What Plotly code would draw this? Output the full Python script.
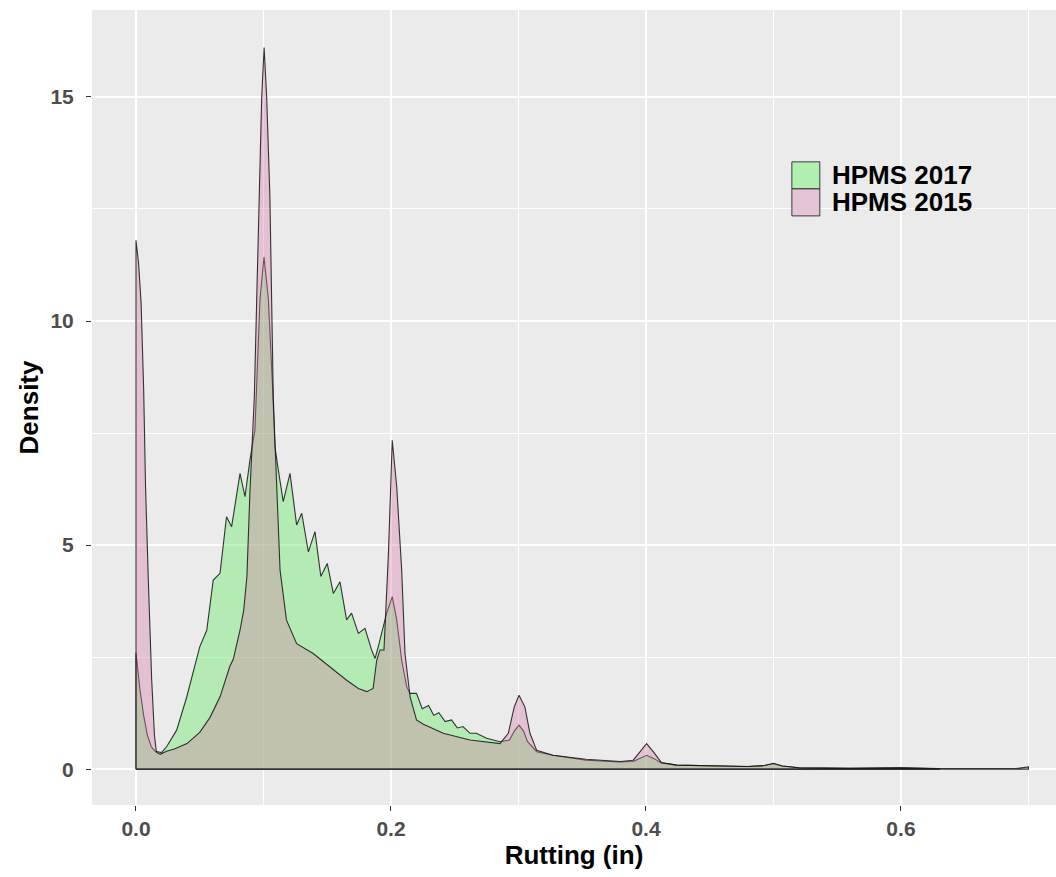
import plotly.graph_objects as go

# ---------------- data ----------------
series_names = ["HPMS 2017", "HPMS 2015"]

x_2015 = [0.0, 0.002, 0.004, 0.006, 0.0075, 0.0097, 0.0123, 0.0145, 0.016, 0.019,
          0.024, 0.03, 0.04, 0.05, 0.058, 0.066, 0.0737, 0.0763, 0.0816, 0.0845,
          0.087, 0.0894, 0.091, 0.0928, 0.0947, 0.0967, 0.0986, 0.1005, 0.1025, 0.105,
          0.1064, 0.1077, 0.109, 0.113, 0.118, 0.126, 0.139, 0.152, 0.165, 0.1744,
          0.181, 0.186, 0.1888, 0.1914, 0.1945, 0.198, 0.201, 0.2045, 0.2084, 0.211,
          0.215, 0.22, 0.2254, 0.241, 0.262, 0.2855, 0.292, 0.2967, 0.3004, 0.305,
          0.309, 0.3143, 0.327, 0.353, 0.38, 0.39, 0.395, 0.4005, 0.406, 0.412,
          0.424, 0.45, 0.48, 0.493, 0.5, 0.507, 0.52, 0.56, 0.6, 0.63]
y_2015 = [11.8, 11.3, 10.4, 8.5, 6.3, 4.2, 2.0, 0.75, 0.38, 0.33,
          0.4, 0.45, 0.57, 0.82, 1.15, 1.62, 2.3, 2.45, 3.1, 3.55,
          4.3, 6.2, 7.2, 8.3, 10.5, 12.8, 15.0, 16.1, 15.0, 12.8,
          10.5, 8.3, 7.3, 4.44, 3.33, 2.8, 2.58, 2.28, 1.99, 1.8,
          1.73, 1.8, 2.43, 2.66, 2.66, 4.81, 7.34, 6.3, 4.44, 2.58,
          1.61, 1.1, 1.0, 0.8, 0.65, 0.57, 0.8, 1.39, 1.65, 1.39,
          0.8, 0.42, 0.31, 0.22, 0.17, 0.2, 0.38, 0.57, 0.38, 0.15,
          0.09, 0.07, 0.06, 0.08, 0.13, 0.07, 0.03, 0.02, 0.03, 0.01]

x_2017 = [0.0, 0.003, 0.006, 0.009, 0.012, 0.015, 0.02, 0.024, 0.0319, 0.0398,
          0.0424, 0.05, 0.0555, 0.0606, 0.0659, 0.071, 0.075, 0.0816, 0.0855, 0.0894,
          0.0933, 0.0947, 0.0973, 0.1004, 0.1038, 0.107, 0.109, 0.1115, 0.1155, 0.1208,
          0.126, 0.130, 0.1352, 0.1404, 0.145, 0.150, 0.1548, 0.160, 0.1652, 0.1691,
          0.1744, 0.1796, 0.1848, 0.1875, 0.19, 0.1966, 0.201, 0.2045, 0.2084, 0.2123,
          0.215, 0.22, 0.2245, 0.2295, 0.2335, 0.2375, 0.2425, 0.2475, 0.252, 0.2565,
          0.262, 0.267, 0.275, 0.2855, 0.293, 0.2967, 0.3004, 0.304, 0.307, 0.3143,
          0.327, 0.353, 0.38, 0.39, 0.395, 0.4005, 0.406, 0.412, 0.424, 0.45,
          0.48, 0.493, 0.5, 0.507, 0.52, 0.56, 0.6, 0.63, 0.66, 0.69, 0.7]
y_2017 = [2.6, 1.8, 1.2, 0.75, 0.5, 0.4, 0.37, 0.5, 0.87, 1.61,
          1.91, 2.73, 3.1, 4.22, 4.37, 5.63, 5.41, 6.6, 6.08, 6.9,
          7.57, 8.6, 10.5, 11.43, 10.5, 8.6, 7.19, 6.7, 5.97, 6.6,
          5.45, 5.71, 4.85, 5.3, 4.3, 4.59, 3.92, 4.18, 3.33, 3.48,
          3.03, 3.14, 2.66, 2.47, 2.73, 3.48, 3.85, 3.33, 2.43, 1.84,
          1.69, 1.69, 1.35, 1.42, 1.2, 1.26, 1.06, 1.1, 0.92, 0.95,
          0.8, 0.8, 0.69, 0.61, 0.65, 0.85, 0.98, 0.85, 0.62, 0.39,
          0.31, 0.2, 0.16, 0.17, 0.24, 0.31, 0.24, 0.14, 0.09, 0.07,
          0.06, 0.08, 0.12, 0.07, 0.03, 0.02, 0.03, 0.015, 0.01, 0.015, 0.05]

x_ticks = [0.0, 0.2, 0.4, 0.6]
x_tick_labels = ["0.0", "0.2", "0.4", "0.6"]
y_ticks = [0, 5, 10, 15]
y_tick_labels = ["0", "5", "10", "15"]

# ---------------- styling ----------------
fill_colors = {"HPMS 2017": "rgba(120,235,120,0.47)",
               "HPMS 2015": "rgba(215,125,170,0.38)"}
key_colors = {"HPMS 2017": "rgb(178,240,178)",
              "HPMS 2015": "rgb(228,196,214)"}
FONT = "Liberation Sans, Arial, sans-serif"


def closed(xs, ys):
    # close the density polygon down to the baseline (like geom_density)
    return [xs[0]] + xs + [xs[-1], xs[0]], [0] + ys + [0, 0]


fig = go.Figure()
for name, xs, ys in [("HPMS 2017", x_2017, y_2017), ("HPMS 2015", x_2015, y_2015)]:
    px_, py_ = closed(xs, ys)
    fig.add_trace(go.Scatter(
        x=px_, y=py_, mode="lines", fill="toself",
        fillcolor=fill_colors[name],
        line=dict(color="rgba(20,20,20,0.85)", width=1.1),
        name=name, showlegend=False, hoverinfo="skip"))

# ggplot-like legend with large square keys (paper coordinates)
leg_x0, key_w, key_h = 0.726, 0.029, 0.034
keys_top = 0.809
for i, name in enumerate(series_names):
    top = keys_top - i * key_h
    fig.add_shape(type="rect", xref="paper", yref="paper",
                  x0=leg_x0, x1=leg_x0 + key_w, y0=top - key_h, y1=top,
                  fillcolor=key_colors[name],
                  line=dict(color="rgba(40,40,40,0.9)", width=1))
    fig.add_annotation(xref="paper", yref="paper", x=leg_x0 + key_w + 0.011,
                       y=top - key_h / 2, text="<b>%s</b>" % name, showarrow=False,
                       xanchor="left", yanchor="middle",
                       font=dict(family=FONT, size=26, color="black"))

fig.update_layout(
    width=1056, height=877,
    margin=dict(l=92, r=0, t=10, b=72),
    paper_bgcolor="white", plot_bgcolor="#EBEBEB",
    font=dict(family=FONT),
    showlegend=False,
)
fig.update_xaxes(
    range=[-0.0345, 0.7216], tickvals=x_ticks, ticktext=["<b>%s</b>" % t for t in x_tick_labels],
    showgrid=True, gridcolor="white", gridwidth=1.8, zeroline=False,
    minor=dict(dtick=0.1, tick0=0.1, showgrid=True, gridcolor="white", gridwidth=0.9, ticks=""),
    ticks="outside", ticklen=5, tickcolor="#333333", tickwidth=1,
    tickfont=dict(family=FONT, size=21, color="#4D4D4D"),
    title=dict(text="<b>Rutting (in)</b>", font=dict(family=FONT, size=26, color="black"), standoff=6),
    showline=False,
)
fig.update_yaxes(
    range=[-0.80, 16.94], tickvals=y_ticks, ticktext=["<b>%s</b>" % t for t in y_tick_labels],
    showgrid=True, gridcolor="white", gridwidth=1.8, zeroline=False,
    minor=dict(dtick=2.5, tick0=2.5, showgrid=True, gridcolor="white", gridwidth=0.9, ticks=""),
    ticks="outside", ticklen=5, tickcolor="#333333", tickwidth=1, ticklabelstandoff=8,
    tickfont=dict(family=FONT, size=21, color="#4D4D4D"),
    title=dict(text="<b>Density</b>", font=dict(family=FONT, size=26, color="black"), standoff=4),
    showline=False,
)

fig.write_html("out.html")
